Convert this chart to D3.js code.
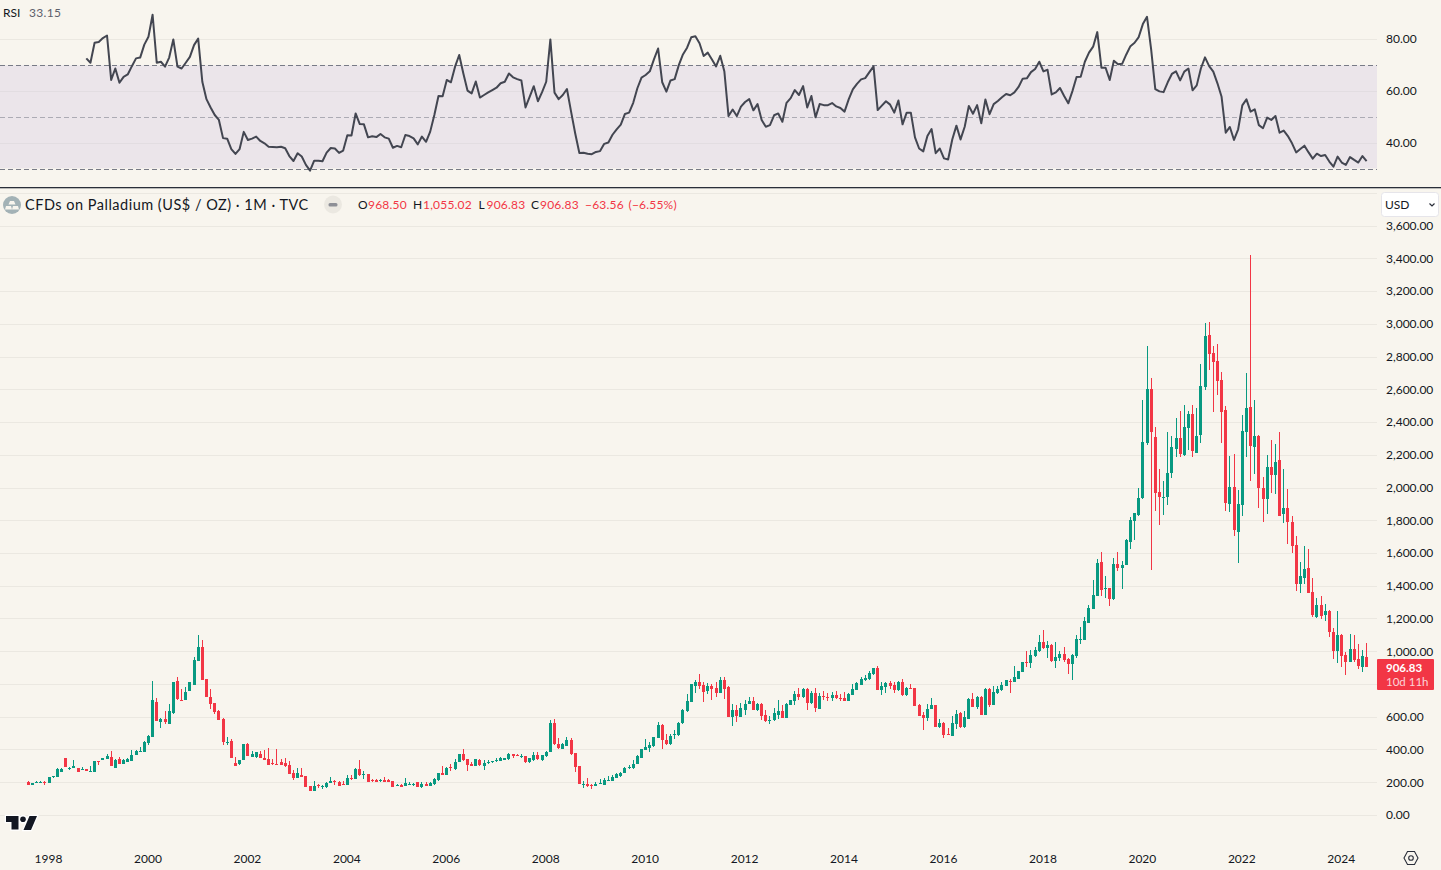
<!DOCTYPE html>
<html><head><meta charset="utf-8"><title>CFDs on Palladium</title>
<script src="https://cdn.jsdelivr.net/npm/d3@7/dist/d3.min.js"></script>
<style>
html,body{margin:0;padding:0;background:#f8f5ee;overflow:hidden}
svg{display:block}
text{font-family:Lato,"Noto Sans",sans-serif}
</style></head><body><svg id="c" width="1441" height="870"></svg>
<script>
const open=[205,187,196,205,207,199,232,236,265,350,
285,289,287,279,281,267,265,334,338,346,
354,289,342,315,328,332,368,389,389,440,
480,692,572,586,560,623,820,708,704,761,
798,944,1028,832,722,684,639,590,440,454,
319,313,340,437,356,354,378,352,344,321,
313,325,321,307,256,230,246,240,179,150,
187,177,175,197,210,206,194,184,226,222,
281,245,251,216,214,208,214,214,208,180,
184,180,190,186,202,172,190,180,190,214,
257,245,294,281,326,373,342,312,304,340,
304,320,324,330,332,340,342,373,367,355,
361,324,336,367,336,361,387,562,434,408,
424,458,379,300,190,192,184,182,192,184,
210,210,228,238,259,289,289,316,352,400,
410,424,471,550,462,434,491,489,562,638,
695,792,814,796,760,790,776,750,826,784,
602,644,602,644,682,698,644,680,614,580,
584,614,638,596,674,699,741,721,772,685,
748,650,729,725,717,735,719,717,699,735,
766,798,825,832,862,899,766,784,808,796,
766,815,733,778,778,675,614,596,650,675,
541,566,499,487,560,626,541,590,711,662,
723,614,772,675,747,766,790,820,814,836,
878,935,929,972,1002,1062,1020,1044,941,960,
984,954,924,972,1072,1072,1176,1262,1342,1550,
1387,1391,1322,1538,1514,1532,1673,1796,1838,1937,
2273,2603,2311,1978,1944,1944,2089,2241,2305,2204,
2366,2451,2216,2324,2615,2936,2827,2779,2657,2475,
1905,2008,1731,1899,2342,2493,2253,2318,2002,1935,
2130,2081,2172,1844,1881,1790,1650,1413,1450,1511,
1365,1212,1285,1224,1250,1120,1005,1102,980,938,
1018,955,906,968.5];
const close=[187,197,205,207,205,232,240,283,285,297,
291,301,265,282,273,270,330,330,351,362,
301,338,315,338,344,368,393,393,448,484,
704,578,590,568,637,814,710,704,753,814,
948,1028,828,722,682,631,582,450,446,352,
303,338,435,362,374,386,352,340,309,315,
309,307,301,254,230,258,236,175,150,179,
179,181,199,210,206,181,190,226,220,283,
245,251,204,208,204,216,204,204,172,184,
174,198,194,190,172,190,180,196,220,257,
249,292,290,328,373,336,306,304,342,306,
318,328,330,338,350,348,373,365,363,363,
324,348,367,342,367,387,562,436,410,434,
458,373,294,192,194,182,180,192,196,214,
214,232,252,261,289,297,316,361,403,416,
428,477,550,458,434,487,495,562,646,697,
802,814,792,754,792,772,748,826,772,602,
644,608,656,680,698,644,680,608,578,584,
626,638,596,680,705,741,723,772,687,748,
657,731,723,719,735,715,711,699,741,772,
808,832,838,868,899,766,790,808,790,766,
814,733,778,775,668,608,596,650,675,541,
566,493,492,566,620,541,600,711,662,723,
614,772,675,753,772,796,826,814,844,881,
935,931,978,1008,1062,1020,1038,943,965,984,
948,924,978,1075,1076,1189,1268,1348,1544,1379,
1391,1324,1538,1514,1532,1680,1802,1845,1942,2281,
2603,2344,1968,1944,1948,2093,2251,2305,2210,2372,
2451,2229,2318,2621,2930,2821,2773,2651,2463,1911,
2008,1741,1905,2348,2487,2257,2318,2002,1935,2130,
2081,2160,1832,1881,1790,1646,1413,1462,1505,1358,
1224,1285,1218,1248,1120,1005,1102,975,938,1018,
950,912,975,906.83];
const high=[210,198,210,208,208,233,241,287,288,352,
297,338,288,293,282,301,332,335,352,374,
395,342,358,342,350,398,398,415,452,490,
821,716,594,637,680,815,843,775,785,815,
965,1100,1072,834,770,685,645,592,476,465,
354,339,436,442,392,387,395,400,410,345,
403,342,349,334,280,289,289,242,180,209,
189,185,204,234,214,209,208,244,245,290,
336,270,252,224,220,222,232,222,210,190,
190,226,202,198,203,202,204,204,228,262,
299,293,316,346,377,408,346,328,346,346,
338,338,332,350,355,353,384,378,376,375,
365,350,385,385,372,392,580,590,472,445,
480,472,381,301,210,230,194,206,220,226,
238,246,262,266,293,310,340,366,406,466,
448,480,570,560,500,495,520,570,650,740,
803,830,866,812,808,800,815,845,845,790,
680,674,684,704,722,722,685,684,644,608,
656,702,674,684,708,760,778,780,780,762,
778,745,760,745,755,760,740,752,745,802,
815,848,860,880,902,910,815,815,820,815,
820,832,785,802,780,680,632,680,720,677,
590,568,535,608,642,632,640,715,750,728,
728,778,780,790,790,815,830,832,912,885,
940,1004,1012,1030,1100,1135,1065,1050,1062,1004,
1030,960,985,1100,1152,1210,1285,1440,1565,1612,
1465,1392,1575,1612,1555,1690,1825,1850,2000,2540,
2870,2675,2375,2115,2040,2340,2320,2430,2470,2510,
2470,2505,2490,2755,3010,3015,2870,2880,2710,2500,
2195,2210,1985,2445,2705,3422,2540,2325,2070,2200,
2295,2270,2345,2115,1995,1830,1705,1548,1645,1627,
1450,1328,1340,1292,1255,1145,1249,1110,998,1108,
1102,1047,1010,1055.02];
const low=[185,186,195,204,185,198,231,234,264,296,
277,288,264,277,272,265,264,307,337,345,
300,288,314,314,327,331,367,388,388,432,
479,577,535,560,559,618,705,698,703,760,
797,943,827,721,650,622,581,432,430,351,
302,310,339,361,355,352,351,339,308,305,
308,305,296,252,216,229,235,174,149,149,
168,160,170,196,187,180,189,183,219,221,
240,225,203,207,203,202,203,203,171,178,
172,178,188,182,171,170,178,178,188,212,
245,244,271,276,325,335,270,300,302,302,
280,312,322,328,330,338,340,352,360,353,
320,322,334,340,334,359,385,430,408,405,
422,370,268,190,167,174,159,178,190,183,
209,208,227,233,258,283,286,315,350,398,
385,420,470,405,430,432,466,487,561,630,
694,745,770,692,740,703,725,748,712,600,
545,568,600,615,680,643,638,585,568,558,
575,590,592,594,672,672,702,718,646,680,
632,648,707,700,698,712,700,697,697,733,
764,795,820,830,860,765,735,750,772,750,
762,732,732,774,667,605,523,575,648,538,
535,471,491,486,528,535,535,589,661,650,
613,612,660,674,740,762,788,748,812,834,
876,905,900,970,1000,1018,960,940,900,941,
940,866,830,960,1047,1070,1174,1260,1340,1340,
1330,1280,1315,1495,1385,1528,1630,1680,1830,1935,
2260,1500,1860,1775,1835,1895,2060,2190,2190,2195,
2230,2190,2216,2275,2600,2720,2465,2570,2275,1860,
1855,1710,1545,1830,2190,2045,2085,1880,1795,1840,
1970,1965,1830,1785,1660,1603,1370,1358,1413,1356,
1215,1205,1200,1188,1089,955,930,906,858,935,
940,895,875,906.83];
const rsiFirstBar=14;
const rsi=[72.7,71,78.7,79,80.5,81.5,
64.4,68.8,63.3,65.6,66.5,69.7,72.7,73,78,81,
89.5,71,71.4,69.5,73,80,69.5,68.8,71,73.3,
77.8,80.3,63.7,57,53.8,50.9,49,42,41.8,37.8,
35.9,37.8,44.4,41.3,41.8,42.6,40.9,40,38.7,38.6,
38.5,38.7,38.1,35.1,33.2,36.2,34.9,31.7,29.5,33.3,
33.3,33.1,36.4,38.2,38,36.3,37.2,43.1,43,51.5,
47.4,47.3,42.3,42.7,42.4,43.6,42.3,41.8,38.3,39,
38.5,43.2,42.8,41.9,39.6,42.6,40.6,44.5,50.9,58.2,
58.1,64.4,63.5,69.5,74,66.9,60.3,59.2,63.8,57.6,
58.6,59.6,60.5,61.4,63.1,63.7,66.9,65.4,64.7,64.2,
53.8,57.9,62,56.2,59.7,63.7,80,59.5,57,58.6,
60.9,52.2,43.8,36.3,36.4,36,35.8,36.7,37,39.8,
40.3,43.3,45.4,47.2,51.3,51.8,55.6,61.2,65.3,66.3,
67.7,72.3,76.5,63.5,59.9,64.2,64.7,70.1,74.2,76.8,
80.8,81.2,78.5,73.6,74.9,72.3,69.6,73.7,67.6,50.5,
53,50.5,54.1,55.9,57,52.7,55.1,49,46.4,47,
50.8,51.5,48.3,55.6,57.4,60.5,58.6,62,53.8,58.2,
50,55.1,54.7,54.7,55.5,54.2,53.6,52.2,56.9,60.8,
62.9,64.6,65.1,67.4,69.6,52.8,54.5,56.2,54.9,51.8,
56.5,47.3,51.8,51.8,42.3,38,36.9,42.8,45.5,36.2,
38,34.2,33.8,41.5,46.8,41.5,46.4,54.4,51.4,54.7,
47.7,56.9,51.2,55.1,56.3,57.7,59,58.5,59.6,61.7,
64.9,65,67.4,68.6,71.4,67.7,68.3,58.8,59.6,61.3,
58.2,55.4,60.1,65.5,65.6,71.4,74.9,77.2,82.8,69.1,
69.1,64.4,71.8,70.4,70.6,74.2,77.4,78.7,80.9,85.9,
88.7,76.2,60.9,60,59.7,63.5,66.7,67.7,64.2,67.6,
68.8,60.4,62.3,68.8,73.1,69.7,67.6,63.1,57.9,44.1,
46.3,41.3,45.4,54.6,56.9,52.2,53.1,47,45.8,49.9,
49,50.5,44.1,44.9,42.8,40,36.5,37.8,39.1,36.5,
34.1,36,35.1,35.5,33,31,34.9,32.6,31.7,34.7,
33.6,32.6,35.1,33.15];
const priceTicks=[0,200,400,600,1000,1200,1400,1600,1800,2000,2200,2400,2600,2800,3000,3200,3400,3600];
const priceGrid=[0,200,400,600,800,1000,1200,1400,1600,1800,2000,2200,2400,2600,2800,3000,3200,3400,3600,3800];
const rsiTicks=[40,60,80];
const rsiLevels=[30,50,70];
const bars=d3.range(open.length);
const barDates=d3.utcMonth.range(new Date(Date.UTC(1997,7,1)),new Date(Date.UTC(2024,7,1)));

const W=1441,H=870,plotR=1377;
const GREEN="#089981",RED="#f23645",INK="#131722",GRID="#ebe8e1";
const svg=d3.select("#c");
svg.append("rect").attr("width",W).attr("height",H).attr("fill","#f8f5ee");
const x=d3.scaleLinear().domain([0,323]).range([28.3,1366.6]);
const y=d3.scaleLinear().domain([0,3800]).range([815.4,193.4]);
const r=d3.scaleLinear().domain([30,80]).range([169.3,39.4]);
const snap=v=>Math.floor(v)+0.5;

// RSI pane
svg.append("rect").attr("x",0).attr("width",plotR).attr("y",r(70)).attr("height",r(30)-r(70)-1).attr("fill","#ebe5ea");
const rsiPane=svg.append("g");
rsiPane.selectAll("line.g").data(rsiTicks).join("line").attr("class","g").attr("x1",0).attr("x2",plotR)
 .attr("y1",d=>snap(r(d))).attr("y2",d=>snap(r(d))).attr("stroke",d=>d===80?GRID:"#e2dde1");
rsiPane.selectAll("line.l").data(rsiLevels).join("line").attr("class","l").attr("x1",0).attr("x2",plotR)
 .attr("y1",d=>snap(r(d))).attr("y2",d=>snap(r(d))).attr("stroke","#787b86").attr("stroke-dasharray","5,3")
 .attr("stroke-opacity",d=>d===50?0.55:1);
const rsiAxis=d3.axisRight(r).tickValues(rsiTicks).tickSize(0).tickPadding(0).tickFormat(d3.format(".2f"));
const fmtAxis=g=>{g.select(".domain").remove();g.selectAll("text").attr("fill",INK).attr("font-size",12);};
svg.append("g").attr("transform","translate(1386,-0.5)").call(rsiAxis).call(fmtAxis);
svg.append("path").datum(rsi).attr("fill","none").attr("stroke","#434651").attr("stroke-width",2)
 .attr("stroke-linejoin","round").attr("d",d3.line().x((d,i)=>x(i+rsiFirstBar)).y(d=>r(d)));
svg.append("text").attr("x",3).attr("y",17).attr("font-size",12).attr("fill",INK).text("RSI");
svg.append("text").attr("x",29).attr("y",17).attr("font-size",12).attr("fill","#5d606b").attr("letter-spacing",".3").text("33.15");
svg.append("rect").attr("x",0).attr("y",187).attr("width",W).attr("height",1.3).attr("fill","#2a2e39");

// price pane
svg.append("g").selectAll("line").data(priceGrid).join("line").attr("x1",0).attr("x2",plotR)
 .attr("y1",d=>snap(y(d))).attr("y2",d=>snap(y(d))).attr("stroke",GRID);
const priceAxis=d3.axisRight(y).tickValues(priceTicks).tickSize(0).tickPadding(0).tickFormat(d3.format(",.2f"));
svg.append("g").attr("transform","translate(1386,-0.5)").call(priceAxis).call(fmtAxis);

const candles=svg.append("g").attr("shape-rendering","crispEdges").selectAll("g").data(bars).join("g")
 .attr("fill",i=>close[i]>=open[i]?GREEN:RED);
candles.append("rect").attr("x",i=>Math.floor(x(i))).attr("width",1)
 .attr("y",i=>y(high[i])).attr("height",i=>Math.max(1,y(low[i])-y(high[i])));
candles.append("rect").attr("x",i=>Math.floor(x(i))-1).attr("width",3)
 .attr("y",i=>Math.round(y(Math.max(open[i],close[i]))))
 .attr("height",i=>Math.max(1,Math.round(y(Math.min(open[i],close[i])))-Math.round(y(Math.max(open[i],close[i])))));

// time axis
const yearBars=bars.filter(i=>barDates[i].getUTCMonth()===0&&barDates[i].getUTCFullYear()%2===0);
const timeAxis=d3.axisBottom(x).tickValues(yearBars).tickSize(0).tickPadding(0).tickFormat(i=>barDates[i].getUTCFullYear());
svg.append("g").attr("transform","translate(-1,854)").call(timeAxis).call(fmtAxis);

// legend
svg.append("circle").attr("cx",12).attr("cy",205).attr("r",9).attr("fill","#a3b2b6");
const bar=svg.append("g").attr("fill","#f8f5ee");
bar.append("path").attr("d","M10 201h4l1.5 3.5h-7zM6 206h5l1 3.5h-7zM13 206h5l1 3.5h-7z");
svg.append("text").attr("x",25).attr("y",210).attr("font-size",14.5).attr("letter-spacing",".5").attr("fill",INK)
 .text("CFDs on Palladium (US$ / OZ) · 1M · TVC");
svg.append("circle").attr("cx",333).attr("cy",204.5).attr("r",9).attr("fill","#ebe8e1");
svg.append("rect").attr("x",328.5).attr("y",203).attr("width",9).attr("height",3.5).attr("rx",1.5).attr("fill","#8d8f96");
const legendHead=[["O",358],["H",413],["L",478.5],["C",531]];
const legendVals=[["968.50",368],["1,055.02",423],["906.83",486.5],["906.83",540],["−63.56",585],["(−6.55%)",628.5]];
svg.append("g").selectAll("text").data(legendHead).join("text").attr("x",d=>d[1]).attr("y",209).attr("font-size",12).attr("fill",INK).text(d=>d[0]);
svg.append("g").selectAll("text").data(legendVals).join("text").attr("x",d=>d[1]).attr("y",209).attr("font-size",12).attr("letter-spacing",".2").attr("fill",RED).text(d=>d[0]);

// last price box
svg.append("rect").attr("x",1377).attr("y",659).attr("width",57).attr("height",31).attr("rx",1).attr("fill",RED);
svg.append("text").attr("x",1386).attr("y",672).attr("font-size",11.5).attr("font-weight",700).attr("fill","#fff").text("906.83");
svg.append("text").attr("x",1386).attr("y",686).attr("font-size",11.5).attr("fill","#fff").attr("fill-opacity",.8).text("10d 11h");

// currency button
svg.append("rect").attr("x",1381.5).attr("y",192.5).attr("width",57).attr("height",24).attr("rx",3).attr("fill","#fff").attr("stroke","#e6e5ea");
svg.append("text").attr("x",1385).attr("y",209).attr("font-size",12).attr("fill",INK).text("USD");
svg.append("path").attr("d","M1429.5 203.5l2.5 2.5 2.5-2.5").attr("fill","none").attr("stroke","#2a2e39").attr("stroke-width",1.2);

// logo
const logo=svg.append("g").attr("transform","translate(5,815)");
const logoPath="M1 1h12.5v13.5h-7v-7.500H1zM24.500 1h7.500L26 15h-7.500z";
logo.append("path").attr("d",logoPath).attr("fill","#fff").attr("stroke","#fff").attr("stroke-width",2.4);
logo.append("circle").attr("cx",18).attr("cy",4.3).attr("r",3.4).attr("fill","#fff").attr("stroke","#fff").attr("stroke-width",2);
logo.append("path").attr("d",logoPath).attr("fill","#131722");
logo.append("circle").attr("cx",18).attr("cy",4.3).attr("r",2.8).attr("fill","#131722");

// settings glyph
svg.append("path").attr("d","M1404 858l3.500-6.500h7l3.500 6.500-3.500 6.500h-7z").attr("fill","none").attr("stroke","#2a2e39").attr("stroke-width",1.1);
svg.append("circle").attr("cx",1411).attr("cy",858).attr("r",2.3).attr("fill","none").attr("stroke","#2a2e39").attr("stroke-width",1.1);
</script></body></html>
